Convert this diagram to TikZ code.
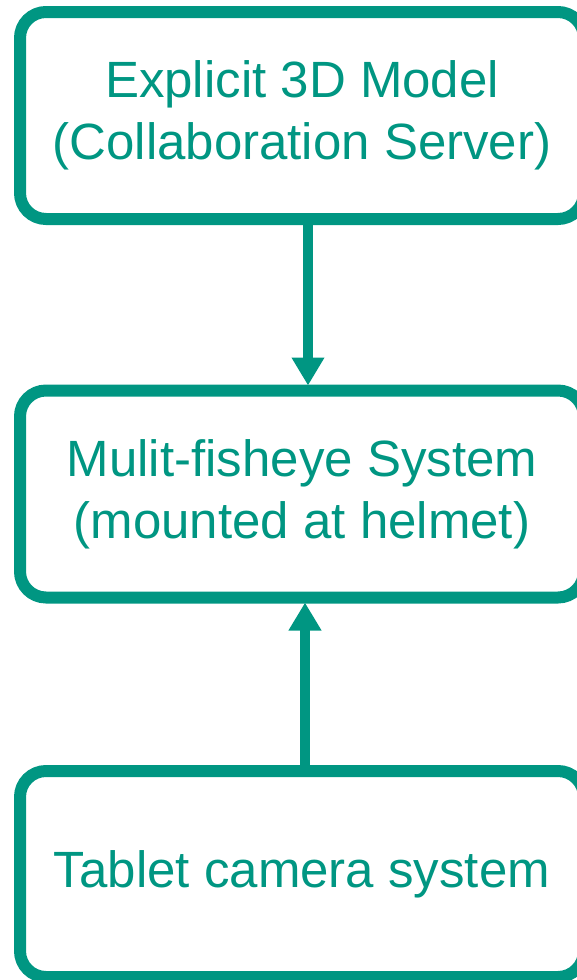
\documentclass[tikz,border=0pt]{standalone}
\usepackage{fontspec}
\setmainfont{Liberation Sans}
\usepackage{xcolor}
\usetikzlibrary{arrows.meta}
\definecolor{kitgreen}{RGB}{0,150,130}

\begin{document}
\begin{tikzpicture}[x=1pt,y=-1pt,
  box/.style={draw=kitgreen,line width=12pt,rounded corners=26pt,align=center,
     text=kitgreen,font=\fontsize{51}{62}\selectfont,inner sep=0pt,
     minimum width=564pt,minimum height=#1},
  box/.default=207pt,
  arr/.style={-{Triangle[length=28pt,width=31pt]},line width=10pt,draw=kitgreen}]
\useasboundingbox (0,0) rectangle (577,980);
\clip (0,0) rectangle (577,980);
\node[box] (model) at (302,115.5) {Explicit 3D Model\\(Collaboration Server)};
\node[box] (fisheye) at (302,494) {Mulit-fisheye System\\(mounted at helmet)};
\node[box=206pt] (tablet) at (302,874) {Tablet camera system};
\draw[arr,shorten >=-1pt] ([xshift=6pt]model.south) -- ([xshift=6pt]fisheye.north);
\draw[arr,shorten >=-1pt] ([xshift=3pt]tablet.north) -- ([xshift=3pt]fisheye.south);
\end{tikzpicture}
\end{document}
